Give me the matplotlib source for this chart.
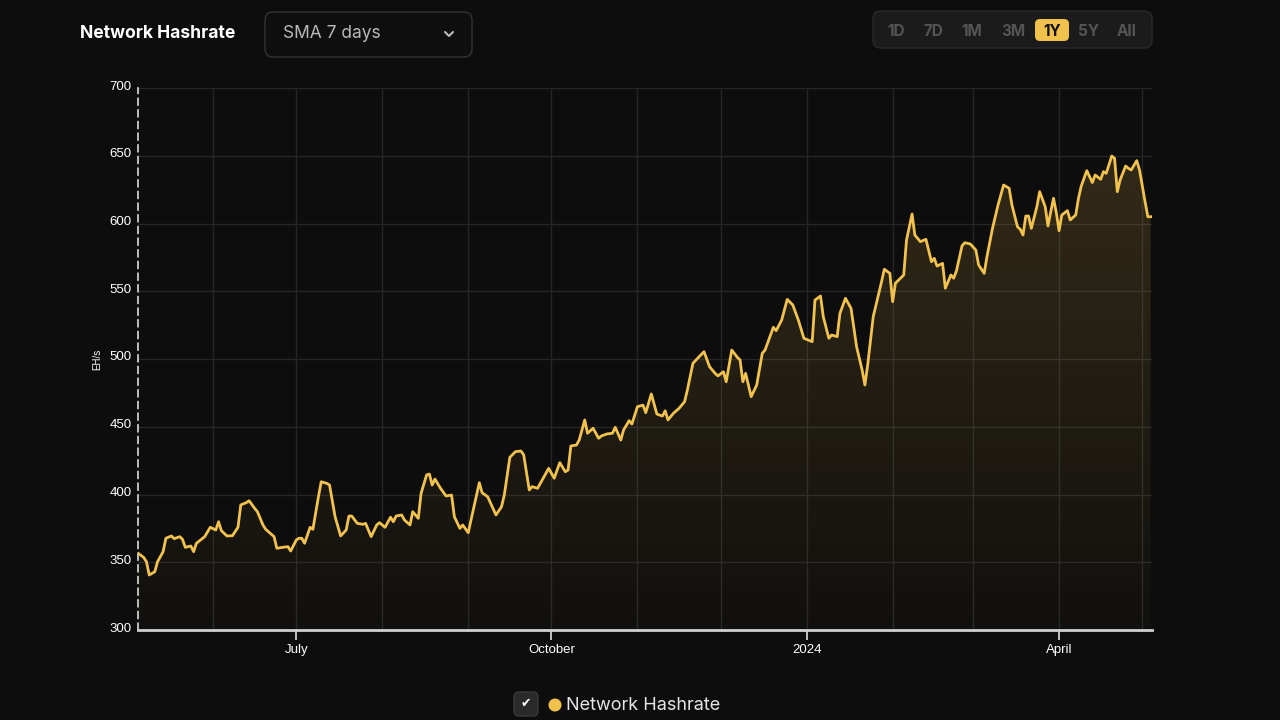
import datetime as dt
import numpy as np
import matplotlib
matplotlib.use("Agg")
import matplotlib.pyplot as plt
import matplotlib.dates as mdates
import matplotlib.transforms as mtrans
from matplotlib.patches import FancyBboxPatch, Circle
from matplotlib.colors import LinearSegmentedColormap

# --- data: 7-day SMA of the network hashrate (EH/s) ---
start = dt.date(2023, 5, 5)
day_offsets = [
    0, 2, 3, 4, 6, 7, 9, 10, 12, 13, 15, 16, 17, 19, 20, 21, 24, 26, 28, 29,
    30, 32, 34, 36, 37, 39, 40, 42, 43, 45, 46, 49, 50, 52, 54, 55, 57, 58, 59, 60,
    62, 63, 65, 66, 68, 69, 71, 73, 75, 76, 77, 79, 81, 82, 84, 86, 87, 89, 91, 92,
    93, 95, 96, 98, 99, 101, 102, 104, 105, 106, 107, 109, 111, 113, 114, 116, 117, 119, 120, 123,
    124, 126, 129, 131, 132, 134, 136, 138, 139, 141, 142, 144, 146, 148, 150, 152, 154, 155, 156, 158,
    159, 161, 162, 164, 166, 167, 169, 171, 172, 174, 175, 177, 178, 180, 182, 183, 185, 187, 189, 190,
    191, 193, 195, 197, 198, 200, 202, 204, 206, 208, 209, 211, 212, 214, 216, 217, 218, 219, 221, 223,
    225, 226, 229, 230, 232, 234, 236, 238, 240, 243, 244, 246, 247, 249, 250, 252, 253, 255, 257, 259,
    261, 262, 263, 265, 268, 269, 271, 272, 273, 276, 277, 279, 280, 282, 284, 286, 287, 288, 290, 291,
    293, 294, 295, 297, 298, 300, 302, 303, 305, 306, 308, 310, 312, 314, 315, 317, 318, 319, 320, 321,
    322, 324, 325, 327, 328, 329, 330, 331, 332, 333, 335, 336, 338, 339, 340, 342, 344, 345, 347, 348,
    349, 351, 352, 353, 354, 356, 357, 358, 360, 361, 363, 364, 365,
]
hashrate = [
    356.6, 353.6, 350.4, 340.6, 343.0, 350.4, 357.8, 367.7, 369.4, 367.4, 368.9, 366.9, 361.0, 362.0, 357.8, 364.0, 368.9, 375.8, 373.8, 379.9,
    373.3, 369.4, 369.6, 375.8, 392.3, 394.0, 395.4, 389.8, 387.3, 377.5, 374.3, 368.9, 360.3, 361.0, 361.5, 358.3, 366.4, 367.7, 367.7, 364.0,
    375.8, 374.3, 398.4, 409.4, 408.2, 407.0, 383.6, 369.4, 373.8, 384.1, 384.1, 378.7, 378.0, 378.7, 368.9, 377.5, 379.2, 375.8, 383.2, 379.9,
    384.1, 384.9, 381.2, 377.5, 387.3, 382.4, 400.9, 414.4, 415.1, 407.0, 411.4, 404.6, 398.9, 399.6, 383.6, 375.0, 377.5, 371.8, 381.2, 408.7,
    401.3, 398.4, 384.9, 391.0, 399.6, 427.4, 431.6, 432.1, 429.2, 403.3, 405.8, 404.6, 412.0, 419.3, 412.0, 423.5, 416.8, 418.1, 435.8, 436.5,
    440.2, 455.0, 445.2, 448.9, 441.5, 443.2, 444.7, 445.2, 449.6, 440.2, 447.6, 454.5, 452.0, 464.8, 466.0, 460.4, 474.2, 459.4, 457.9, 461.8,
    455.0, 460.0, 463.6, 468.5, 477.1, 496.8, 501.2, 505.4, 494.3, 489.4, 487.5, 490.6, 483.2, 506.6, 501.3, 499.3, 483.2, 489.4, 472.2, 480.8,
    504.2, 506.6, 523.4, 520.9, 528.8, 544.0, 539.9, 528.8, 515.3, 512.8, 543.5, 546.5, 531.2, 515.3, 517.7, 516.5, 533.7, 544.8, 537.4, 509.1,
    491.9, 480.8, 495.6, 531.2, 557.0, 566.2, 563.2, 542.3, 555.9, 562.0, 587.8, 607.0, 591.5, 586.6, 588.3, 571.8, 574.3, 568.6, 570.6, 552.2,
    562.0, 559.6, 565.0, 583.4, 585.8, 584.9, 580.4, 569.4, 563.2, 575.5, 596.4, 613.7, 628.4, 626.0, 613.7, 597.6, 595.7, 591.5, 605.5, 605.5,
    596.4, 612.4, 623.5, 612.4, 598.2, 608.7, 618.6, 608.0, 594.7, 606.3, 609.5, 602.6, 606.3, 618.6, 627.7, 639.0, 630.2, 635.8, 632.6, 638.3,
    637.0, 649.8, 648.1, 623.5, 632.1, 642.4, 640.7, 639.5, 646.4, 639.5, 616.1, 605.0, 605.0,
]
y_ticks = [300, 350, 400, 450, 500, 550, 600, 650, 700]
quarter_dates = [dt.date(2023, 7, 1), dt.date(2023, 10, 1), dt.date(2024, 1, 1), dt.date(2024, 4, 1)]
quarter_labels = ["July", "October", "2024", "April"]
ranges = ["1D", "7D", "1M", "3M", "1Y", "5Y", "All"]
active_range = "1Y"

BG = "#0d0d0d"
GOLD = "#f2c24f"
GRID = "#262626"

dates = [start + dt.timedelta(days=d) for d in day_offsets]
xs = mdates.date2num(dates)

fig = plt.figure(figsize=(12.8, 7.2), dpi=100)
fig.patch.set_facecolor(BG)

# overlay axis in pixel coordinates for the UI chrome
ui = fig.add_axes([0, 0, 1, 1])
ui.set_xlim(0, 1280)
ui.set_ylim(720, 0)
ui.axis("off")

ax = fig.add_axes([138 / 1280, 90 / 720, (1152 - 138) / 1280, (630 - 88) / 720])
ax.set_facecolor(BG)

# line + gradient fill under it
ax.plot(xs, hashrate, color=GOLD, lw=2.0, solid_joinstyle="round", zorder=4)
poly = ax.fill_between(xs, hashrate, 300, color="none", lw=0)
x0 = mdates.date2num(start) - 0.05
x1 = mdates.date2num(start) + 365.5
cmap = LinearSegmentedColormap.from_list("fade", [(0.95, 0.76, 0.31, 0.02), (0.95, 0.76, 0.31, 0.17)])
grad = np.linspace(0, 1, 256).reshape(-1, 1)
img = ax.imshow(grad, cmap=cmap, aspect="auto", origin="lower",
                extent=[x0 - 1, x1 + 1, 300, 660], zorder=2)
img.set_clip_path(poly.get_paths()[0], transform=ax.transData)

ax.set_xlim(x0, x1)
ax.set_ylim(300, 700)

# axes styling
ax.set_yticks(y_ticks)
ax.set_yticklabels([str(v) for v in y_ticks], fontsize=9.5, color="white", family="Liberation Sans")
ax.tick_params(axis="y", length=0, pad=4.5)
lift = mtrans.ScaledTranslation(0, 3 / 100, fig.dpi_scale_trans)
for lab in ax.get_yticklabels():
    lab.set_transform(lab.get_transform() + lift)
ax.xaxis.set_major_locator(matplotlib.ticker.FixedLocator(mdates.date2num(quarter_dates)))
ax.xaxis.set_major_formatter(matplotlib.ticker.FixedFormatter(quarter_labels))
ax.xaxis.set_minor_locator(mdates.MonthLocator())
ax.tick_params(axis="x", which="major", length=7, width=1.2, color="#e0e0e0", pad=3,
               labelsize=9.5, labelcolor="white")
ax.tick_params(axis="x", which="minor", length=0)
for lab in ax.get_xticklabels():
    lab.set_family("Liberation Sans")
ax.grid(axis="x", which="both", color=GRID, lw=1, zorder=1)
ax.grid(axis="y", color=GRID, lw=1, zorder=1)
ax.set_axisbelow(True)

for s in ["top", "right"]:
    ax.spines[s].set_visible(False)
ax.spines["left"].set_color("#dcdcdc")
ax.spines["left"].set_linewidth(1.2)
ax.spines["left"].set_linestyle((0, (4, 3)))
ax.spines["bottom"].set_color("#d0d0d0")
ax.spines["bottom"].set_linewidth(2)
ax.spines["bottom"].set_zorder(5)

ax.set_ylabel("EH/s", fontsize=7, color="white", family="Liberation Sans", labelpad=5)

# --- header ---
ui.text(80, 34, "Network Hashrate", fontsize=12.6, fontweight="bold", color="white",
        family="Inter", va="center", ha="left")
ui.add_patch(FancyBboxPatch((265, 12), 207, 45, boxstyle="round,pad=0,rounding_size=8",
                            fc="#0f0f0f", ec="#333333", lw=1))
ui.text(283, 34, "SMA 7 days", fontsize=12.5, color="#b8b8b8", family="Inter", va="center")
ui.plot([445, 449, 453], [32, 36, 32], color="#bbbbbb", lw=1.5, solid_capstyle="round")

ui.add_patch(FancyBboxPatch((873, 11), 279, 37, boxstyle="round,pad=0,rounding_size=8",
                            fc="#1b1b1b", ec="#2a2a2a", lw=1))
btn_x = [896, 933, 972, 1013, 1052, 1089, 1127]
for label, bx in zip(ranges, btn_x):
    if label == active_range:
        ui.add_patch(FancyBboxPatch((bx - 17, 19), 34, 22, boxstyle="round,pad=0,rounding_size=5",
                                    fc="#f0c14b", ec="none"))
        col = "#111111"
    else:
        col = "#555555"
    ui.text(bx, 31, label, fontsize=11, fontweight="bold", color=col, family="Inter",
            ha="center", va="center")

# --- legend ---
ui.add_patch(FancyBboxPatch((514, 692), 24, 24, boxstyle="round,pad=0,rounding_size=5",
                            fc="#2a2a2a", ec="#3a3a3a", lw=1))
ui.text(526, 704, "\u2714", fontsize=9, color="white", family="DejaVu Sans", ha="center", va="center")
ui.add_patch(Circle((555, 705), 6.5, fc=GOLD, ec="none"))
ui.text(566, 705, "Network Hashrate", fontsize=13, color="#e6e6e6", family="Inter", va="center")

fig.savefig("out.png", dpi=100, facecolor=BG)
